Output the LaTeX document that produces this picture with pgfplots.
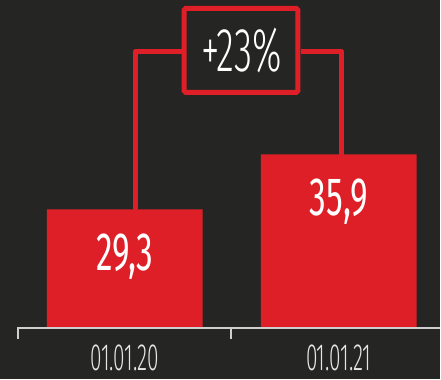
\documentclass[border=0pt]{standalone}
\usepackage{fontspec}
\usepackage{pgfplots}
\pgfplotsset{compat=1.18}
\newfontfamily\lf[FakeStretch=0.55]{Fira Sans Light}
\newfontfamily\pf[FakeStretch=0.6]{Fira Sans Light}
\newfontfamily\rf[FakeStretch=0.62]{Fira Sans}
\definecolor{bg}{HTML}{252523}
\definecolor{barred}{HTML}{DE1F27}
\definecolor{axgray}{HTML}{CFCFCF}
\definecolor{lbl}{HTML}{E6E6E6}
\begin{document}
\begin{tikzpicture}
\fill[bg] (0,0) rectangle (441pt,380pt);
\begin{axis}[
  at={(0pt,51pt)}, anchor=south west,
  scale only axis, width=441pt, height=329pt,
  xmin=-0.58275, xmax=1.47319, ymin=15, ymax=54.48,
  hide y axis, axis x line*=bottom,
  x axis line style={draw=none},
  xtick={0,1}, xticklabels={01.01.20,01.01.21},
  major tick length=0pt,
  xticklabel style={anchor=center, inner sep=0pt, yshift=-29pt, text=lbl, text depth=0pt, font=\lf\fontsize{38}{41}\selectfont},
  ybar, bar width=156pt,
  nodes near coords={\pgfmathprintnumber[fixed,fixed zerofill,precision=1,use comma,assume math mode=true]{\pgfplotspointmeta}},
  every node near coord/.append style={anchor=center, yshift=-43pt, text=white, text depth=0pt, font=\rf\fontsize{54}{58}\selectfont},
]
\addplot[fill=barred, draw=none] coordinates {(0,29.3) (1,35.9)};
\end{axis}
% baseline and ticks
\draw[axgray, line width=2pt] (18pt,51pt) -- (441pt,51pt);
\draw[axgray, line width=2pt] (18pt,52pt) -- (18pt,40pt);
\draw[axgray, line width=2pt] (232pt,52pt) -- (232pt,40pt);
% bracket
\draw[barred, line width=5pt, line join=round] (135.5pt,170pt) -- (135.5pt,328pt) -- (182pt,328pt);
\draw[barred, line width=5pt, line join=round] (302pt,328pt) -- (342.5pt,328pt) -- (342.5pt,225pt);
\draw[barred, line width=5pt, rounded corners=1.5pt] (184.5pt,287.5pt) rectangle (298.5pt,371.5pt);
\node[text=white, text depth=0pt, font=\pf\fontsize{62}{66}\selectfont, anchor=center] at (242pt,330pt) {+23\%};
\end{tikzpicture}
\end{document}
